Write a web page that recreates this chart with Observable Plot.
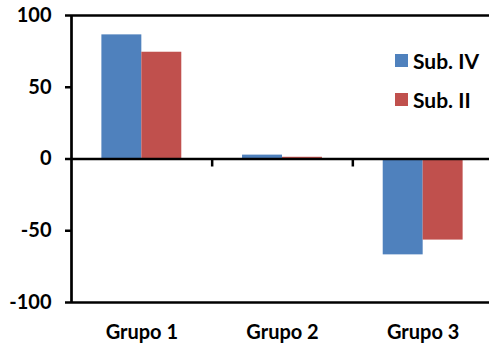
<!DOCTYPE html>
<html>
<head>
<meta charset="utf-8">
<script src="https://cdn.jsdelivr.net/npm/d3@7"></script>
<script src="https://cdn.jsdelivr.net/npm/@observablehq/plot@0.6"></script>
<style>
  body { margin: 0; background: #fff; }
  #chart { position: relative; width: 489px; height: 344px; overflow: hidden;
           font-family: Lato, "Open Sans", sans-serif; font-weight: bold; color: #000; }
  #chart svg { display: block; }
  .legend { position: absolute; left: 395px; top: 41px; }
  .legend .item { display: flex; align-items: center; height: 39px; font-size: 21px; }
  .legend .swatch { width: 13px; height: 13px; margin-right: 5px; }
</style>
</head>
<body>
<div id="chart"></div>
<script>
// Categories, series and values
const groups = ["Grupo 1", "Grupo 2", "Grupo 3"];
const seriesNames = ["Sub. IV", "Sub. II"];
const subIV = [86.5, 2.7, -66.8];
const subII = [74.4, 1.2, -56.5];
const seriesColors = ["#4F81BD", "#C0504D"];
const yTicks = [-100, -50, 0, 50, 100];

// Width of one bar as a fraction of a group's span
const barWidth = 0.284;

const values = [subIV, subII];
const rows = [];
groups.forEach((g, i) => {
  seriesNames.forEach((s, k) => {
    rows.push({group: g, gi: i, series: s, si: k, value: values[k][i]});
  });
});

const x1 = d => d.gi + 0.5 + (d.si - seriesNames.length / 2) * barWidth;
const x2 = d => x1(d) + barWidth;

const chart = Plot.plot({
  width: 489,
  height: 344,
  marginLeft: 71,
  marginRight: -4,
  marginTop: 15,
  marginBottom: 42,
  style: {fontFamily: "Lato, 'Open Sans', sans-serif", fontWeight: "bold", fontSize: "20px", color: "#000", background: "#fff"},
  x: {domain: [0, groups.length]},
  y: {domain: [-100, 100]},
  color: {domain: seriesNames, range: seriesColors},
  marks: [
    Plot.rect(rows, {x1, x2, y1: 0, y2: "value", fill: "series"}),
    // plot border: top, bottom and left
    Plot.ruleY([-100, 100], {stroke: "#000", strokeWidth: 2.7}),
    Plot.ruleX([0], {stroke: "#000", strokeWidth: 2.7}),
    // zero baseline with tick marks between groups
    Plot.ruleY([0], {stroke: "#000", strokeWidth: 2.5}),
    Plot.ruleX(d3.range(1, groups.length), {y1: 0, y2: 0, insetBottom: -8, stroke: "#000", strokeWidth: 2.5}),
    Plot.axisY({ticks: yTicks, tickSize: 6, tickPadding: 14, strokeWidth: 2.5, label: null, fontSize: 20,
                tickFormat: d => String(d)}),
    Plot.axisX({ticks: groups.map((g, i) => i + 0.5), tickSize: 0, tickPadding: 22,
                tickFormat: d => groups[Math.floor(d)], label: null, fontSize: 20})
  ]
});

const root = document.getElementById("chart");
root.appendChild(chart);

// Legend
const legend = document.createElement("div");
legend.className = "legend";
seriesNames.forEach((s, k) => {
  const item = document.createElement("div");
  item.className = "item";
  const sw = document.createElement("span");
  sw.className = "swatch";
  sw.style.background = seriesColors[k];
  const label = document.createElement("span");
  label.textContent = s;
  item.appendChild(sw);
  item.appendChild(label);
  legend.appendChild(item);
});
root.appendChild(legend);
</script>
</body>
</html>
